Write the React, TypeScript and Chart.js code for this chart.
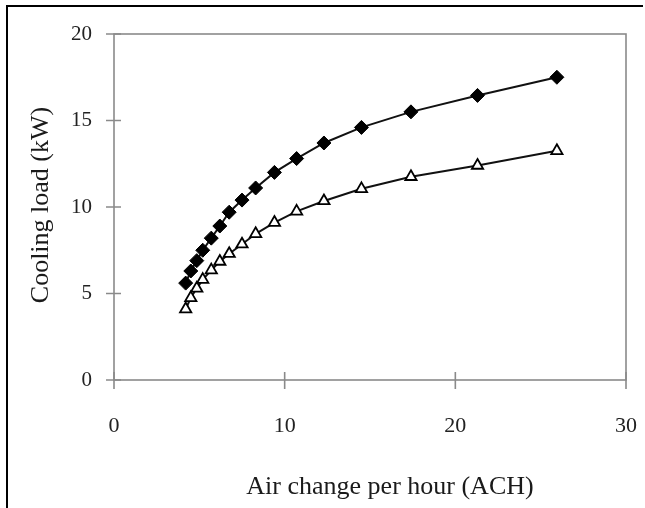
import React, { useEffect, useRef } from "react";
import { Chart, registerables } from "chart.js";

Chart.register(...registerables);

const achValues = [4.2, 4.5, 4.85, 5.2, 5.7, 6.2, 6.75, 7.5, 8.3, 9.4, 10.7, 12.3, 14.5, 17.4, 21.3, 25.95];
const loadFilled = [5.6, 6.3, 6.9, 7.5, 8.2, 8.9, 9.7, 10.4, 11.1, 12.0, 12.8, 13.7, 14.6, 15.5, 16.45, 17.5];
const loadOpen = [4.1, 4.75, 5.3, 5.8, 6.35, 6.85, 7.3, 7.85, 8.45, 9.1, 9.75, 10.35, 11.05, 11.75, 12.4, 13.25];
const xTicks = [0, 10, 20, 30];
const yTicks = [0, 5, 10, 15, 20];
const xTitle = "Air change per hour (ACH)";
const yTitle = "Cooling load (kW)";

const FONT = "'Liberation Serif', 'DejaVu Serif', serif";

const framePlugin = {
  id: "framePlugin",
  beforeDraw(chart: any) {
    const { ctx, width, height } = chart;
    ctx.save();
    ctx.fillStyle = "#ffffff";
    ctx.fillRect(0, 0, width, height);
    ctx.strokeStyle = "#000000";
    ctx.lineWidth = 2;
    ctx.beginPath();
    ctx.moveTo(7, height);
    ctx.lineTo(7, 6);
    ctx.lineTo(width - 2, 6);
    ctx.stroke();
    ctx.restore();
  },
  beforeDatasetsDraw(chart: any) {
    const { ctx, chartArea, scales } = chart;
    const x = scales.x;
    const y = scales.y;
    ctx.save();
    ctx.strokeStyle = "#8a8a8a";
    ctx.lineWidth = 1.6;
    ctx.strokeRect(chartArea.left, chartArea.top, chartArea.right - chartArea.left, chartArea.bottom - chartArea.top);
    ctx.beginPath();
    for (const v of yTicks) {
      const py = y.getPixelForValue(v);
      ctx.moveTo(chartArea.left - 8, py);
      ctx.lineTo(chartArea.left + 7, py);
    }
    for (const v of xTicks) {
      const px = x.getPixelForValue(v);
      ctx.moveTo(px, chartArea.bottom - 8);
      ctx.lineTo(px, chartArea.bottom + 9);
    }
    ctx.stroke();
    ctx.restore();
  },
  afterDraw(chart: any) {
    const { ctx, chartArea } = chart;
    ctx.save();
    ctx.fillStyle = "#1a1a1a";
    ctx.font = `26px ${FONT}`;
    ctx.textAlign = "center";
    ctx.textBaseline = "middle";
    ctx.fillText(xTitle, 390, 487);
    ctx.translate(41, (chartArea.top + chartArea.bottom) / 2 - 2);
    ctx.rotate(-Math.PI / 2);
    ctx.fillText(yTitle, 0, 0);
    ctx.restore();
  },
};

export default function App() {
  const ref = useRef<HTMLCanvasElement | null>(null);
  useEffect(() => {
    document.body.style.margin = "0";
    if (!ref.current) return;
    const chart = new Chart(ref.current, {
      type: "scatter",
      data: {
        datasets: [
          {
            label: "Series 1",
            data: achValues.map((v, i) => ({ x: v, y: loadFilled[i] })),
            showLine: true,
            borderColor: "#111111",
            borderWidth: 2,
            pointStyle: "rectRot",
            pointRadius: 7,
            pointBackgroundColor: "#000000",
            pointBorderColor: "#000000",
            pointBorderWidth: 1,
          },
          {
            label: "Series 2",
            data: achValues.map((v, i) => ({ x: v, y: loadOpen[i] })),
            showLine: true,
            borderColor: "#111111",
            borderWidth: 2,
            pointStyle: "triangle",
            pointRadius: 6.5,
            pointBackgroundColor: "#ffffff",
            pointBorderColor: "#000000",
            pointBorderWidth: 1.8,
          },
        ],
      },
      options: {
        animation: false,
        responsive: false,
        devicePixelRatio: 1,
        layout: { padding: { top: 34, right: 19, left: 0, bottom: 0 } },
        plugins: { legend: { display: false }, tooltip: { enabled: false } },
        scales: {
          x: {
            type: "linear",
            min: 0,
            max: 30,
            afterBuildTicks: (s: any) => {
              s.ticks = xTicks.map((v) => ({ value: v }));
            },
            afterFit: (s: any) => {
              s.height = 128;
              s.paddingLeft = 0;
              s.paddingRight = 0;
            },
            grid: { display: false, drawTicks: false },
            border: { display: false },
            ticks: {
              padding: 33,
              color: "#222222",
              font: { family: FONT, size: 22 },
              maxRotation: 0,
            },
          },
          y: {
            type: "linear",
            min: 0,
            max: 20,
            afterBuildTicks: (s: any) => {
              s.ticks = yTicks.map((v) => ({ value: v }));
            },
            afterFit: (s: any) => {
              s.width = 114;
              s.paddingTop = 0;
              s.paddingBottom = 0;
            },
            grid: { display: false, drawTicks: false },
            border: { display: false },
            ticks: {
              padding: 22,
              color: "#222222",
              font: { family: FONT, size: 21 },
            },
          },
        },
      },
      plugins: [framePlugin],
    });
    return () => chart.destroy();
  }, []);
  return (
    <div style={{ position: "absolute", left: 0, top: 0, width: 645, height: 508 }}>
      <canvas ref={ref} width={645} height={508} style={{ width: 645, height: 508 }} />
    </div>
  );
}
